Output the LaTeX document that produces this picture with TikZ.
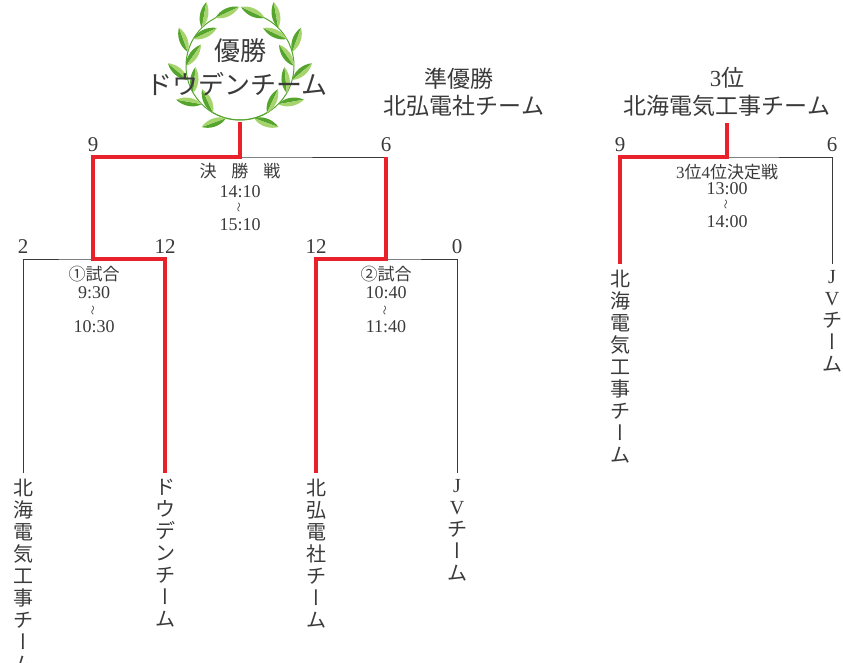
\documentclass[tikz,border=0pt]{standalone}
\usepackage{fontspec}
\setmainfont{Liberation Serif}
\newfontfamily\jp{Noto Sans CJK JP}
\newfontfamily\jpvert[RawFeature=+vert]{Noto Sans CJK JP}
\definecolor{winred}{HTML}{E8212B}
\definecolor{ink}{HTML}{3A3A3A}
\definecolor{leafdark}{HTML}{55A42E}
\definecolor{leaflight}{HTML}{A6D46C}
\tikzset{
  bar/.style={line width=0.8pt, draw=ink},
  winner/.style={line width=4pt, draw=winred, line join=miter},
  score/.style={font=\fontsize{21}{21}\selectfont, text=ink, inner sep=0pt},
  slot/.style={font=\jp\fontsize{17}{17}\selectfont, text=ink, inner sep=0pt},
  clock/.style={font=\fontsize{18}{18}\selectfont, text=ink, inner sep=0pt},
  wavy/.style={font=\jp\fontsize{10}{10}\selectfont, text=ink, inner sep=0pt, rotate=90},
  team/.style={font=\jp\fontsize{20}{22}\selectfont, text=ink, align=center,
    inner sep=0pt, outer sep=6pt, anchor=north},
  title/.style={font=\jp\fontsize{23}{23}\selectfont, text=ink, inner sep=0pt},
  champ/.style={font=\jp\fontsize{26}{26}\selectfont, text=ink, inner sep=0pt}
}
% long vowel mark in its vertical form
\newcommand{\vbar}{{\jpvert ー}}
% one laurel leaf, two-tone
\newcommand{\leaf}[2]{%
  \begin{scope}[shift={#1}, rotate=#2]
    \fill[leafdark] (0,0) .. controls (8,6) and (19,5) .. (26,0) -- cycle;
    \fill[leaflight] (0,0) .. controls (8,-6) and (19,-5) .. (26,0) -- cycle;
  \end{scope}}

\begin{document}
\begin{tikzpicture}[x=1pt, y=-1pt]
  \useasboundingbox (0,0) rectangle (843,663);

  % laurel wreath, two branches crossing at the bottom
  \begin{scope}[shift={(240,66)}, y=1pt]
    \draw[leafdark, line width=1pt] (-58:54) arc[start angle=-58, end angle=-245, radius=54];
    \draw[leafdark, line width=1pt] (-122:54) arc[start angle=-122, end angle=65, radius=54];
    \foreach \a in {-105,-135,-165,-195,-225} {
      \leaf{(\a:54)}{\a-55}
      \leaf{({-180-\a}:54)}{-180-\a+55}
    }
    \foreach \a in {-120,-150,-180,-210} {
      \leaf{(\a:54)}{\a-125}
      \leaf{({-180-\a}:54)}{-180-\a+125}
    }
    \leaf{(-243:54)}{25}
    \leaf{(63:54)}{155}
  \end{scope}
  \node[champ] (wintitle) at (240,51) {優勝};
  \node[champ] (winteam) at (237,84) {ドウデンチーム};

  % runner-up and third place
  \node[title] (silvertitle) at (459,79) {準優勝};
  \node[title] (silverteam) at (464,106) {北弘電社チーム};
  \node[title] (bronzetitle) at (727,78) {{\rmfamily 3}位};
  \node[title] (bronzeteam) at (727,106) {北海電気工事チーム};

  % teams
  \node[team] (hokkai) at (23,473) {北\\海\\電\\気\\工\\事\\チ\\\vbar\\ム};
  \node[team] (douden) at (165,473) {ド\\ウ\\デ\\ン\\チ\\\vbar\\ム};
  \node[team] (hokko) at (316,473) {北\\弘\\電\\社\\チ\\\vbar\\ム};
  \node[team] (jv) at (457,473) {{\rmfamily J}\\{\rmfamily V}\\チ\\\vbar\\ム};
  \node[team] (hokkai3) at (620,264) {北\\海\\電\\気\\工\\事\\チ\\\vbar\\ム};
  \node[team] (jv3) at (832,264) {{\rmfamily J}\\{\rmfamily V}\\チ\\\vbar\\ム};

  % bracket joints
  \coordinate (j1) at (93,259);
  \coordinate (j2) at (386,259);
  \coordinate (jf) at (240,157);
  \coordinate (j3) at (727,157);
  \coordinate (cup) at (240,122);
  \coordinate (bronze) at (727,123);

  \draw[bar] (hokkai.north) |- (j1) -| (douden.north);
  \draw[bar] (hokko.north) |- (j2) -| (jv.north);
  \draw[bar] (j1) |- (jf) -| (j2);
  \draw[bar] (hokkai3.north) |- (j3) -| (jv3.north);

  \draw[winner] (douden.north) |- (j1) |- (jf) -- (cup);
  \draw[winner] (hokko.north) |- (j2) -- (j2 |- jf);
  \draw[winner] (hokkai3.north) |- (j3) -- (bronze);

  % scores
  \node[score] (sc1) at (23,247) {2};
  \node[score] (sc2) at (165,247) {12};
  \node[score] (sc3) at (316,247) {12};
  \node[score] (sc4) at (457,247) {0};
  \node[score] (sc5) at (93,145) {9};
  \node[score] (sc6) at (386,145) {6};
  \node[score] (sc7) at (620,145) {9};
  \node[score] (sc8) at (832,145) {6};

  % match labels
  \node[slot] (fin) at (240,171) {決\hspace{15pt}勝\hspace{15pt}戦};
  \node[clock] (fina) at (240,192) {14:10};
  \node[wavy] (finw) at (240,208) {〜};
  \node[clock] (finb) at (240,225) {15:10};

  \node[slot] (mone) at (94,274) {①試合};
  \node[clock] (monea) at (94,293) {9:30};
  \node[wavy] (monew) at (94,310) {〜};
  \node[clock] (moneb) at (94,327) {10:30};

  \node[slot] (mtwo) at (386,274) {②試合};
  \node[clock] (mtwoa) at (386,293) {10:40};
  \node[wavy] (mtwow) at (386,310) {〜};
  \node[clock] (mtwob) at (386,327) {11:40};

  \node[slot] (third) at (727,172) {{\rmfamily 3}位{\rmfamily 4}位決定戦};
  \node[clock] (thirda) at (727,189) {13:00};
  \node[wavy] (thirdw) at (727,205) {〜};
  \node[clock] (thirdb) at (727,222) {14:00};
\end{tikzpicture}
\end{document}
